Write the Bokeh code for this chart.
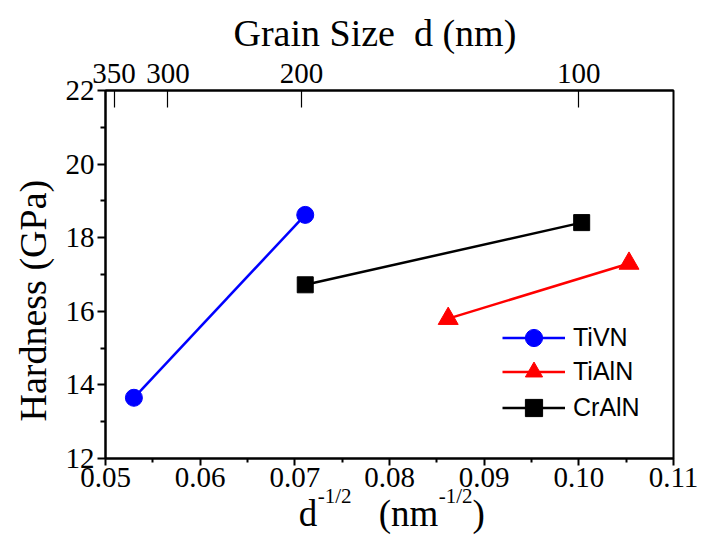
from bokeh.plotting import figure
from bokeh.models import LinearAxis, FixedTicker, Range1d, Title, Legend, LegendItem
from bokeh.embed import file_html
from bokeh.resources import INLINE

# ---- data ----
tivn_x = [0.0530, 0.0711]
tivn_y = [13.65, 18.62]
tialn_x = [0.0862, 0.1053]
tialn_y = [15.80, 17.30]
craln_x = [0.0711, 0.1003]
craln_y = [16.72, 18.41]

x_ticks = [0.05, 0.06, 0.07, 0.08, 0.09, 0.10, 0.11]
x_tick_labels = ["0.05", "0.06", "0.07", "0.08", "0.09", "0.10", "0.11"]
y_ticks = [12, 14, 16, 18, 20, 22]
top_tick_pos = [0.0509, 0.0566, 0.0707, 0.1000]
top_tick_labels = ["350", "300", "200", "100"]

top_title = "Grain Size\u00a0 d (nm)"
left_title = "Hardness (GPa)"
# bottom title pieces: base text and superscripts, placed along the x axis
xt_base_pos = [0.07139, 0.08201, 0.08943]
xt_base_text = ["d", "(nm", ")"]
xt_sup_pos = [0.07420, 0.08698]
xt_sup_text = ["-1/2", "-1/2"]

SERIF = "Liberation Serif"
SANS = "Liberation Sans"
TICK_FS = "29px"

p = figure(width=699, height=536, output_backend="svg", toolbar_location=None,
           x_range=Range1d(0.05, 0.11), y_range=Range1d(12, 22),
           min_border_left=103, min_border_right=26, min_border_top=90, min_border_bottom=78)
p.grid.visible = False
p.outline_line_color = "black"
p.outline_line_width = 2
p.background_fill_color = "white"
p.border_fill_color = "white"

# top title
p.title.text = top_title
p.title.align = "left"
p.title.offset = 128
p.title.standoff = 13
p.title.text_font = SERIF
p.title.text_font_size = "38px"
p.title.text_font_style = "normal"
p.title.text_color = "black"

# bottom axis
xa = p.xaxis[0]
xa.ticker = FixedTicker(ticks=x_ticks,
                        minor_ticks=[(a + b) / 2 for a, b in zip(x_ticks[:-1], x_ticks[1:])])
xa.major_label_overrides = {t: l for t, l in zip(x_ticks, x_tick_labels)}
xa.major_tick_in = 0
xa.major_tick_out = 7
xa.minor_tick_in = 0
xa.minor_tick_out = 4
xa.major_label_standoff = 2

# left axis
ya = p.yaxis[0]
ya.ticker = FixedTicker(ticks=y_ticks,
                        minor_ticks=[(a + b) / 2 for a, b in zip(y_ticks[:-1], y_ticks[1:])])
ya.major_tick_in = 0
ya.major_tick_out = 8
ya.minor_tick_in = 0
ya.minor_tick_out = 5
ya.major_label_standoff = 3

for ax in (xa, ya):
    ax.axis_line_width = 2
    ax.major_tick_line_width = 2
    ax.minor_tick_line_width = 2
    ax.axis_line_color = "black"
    ax.major_tick_line_color = "black"
    ax.minor_tick_line_color = "black"
    ax.major_label_text_font = SERIF
    ax.major_label_text_font_size = TICK_FS
    ax.major_label_text_color = "black"

# top axis (grain size)
top = LinearAxis(ticker=FixedTicker(ticks=top_tick_pos),
                 major_label_overrides={t: l for t, l in zip(top_tick_pos, top_tick_labels)})
top.major_tick_in = 17
top.major_tick_out = 0
top.minor_tick_line_color = None
top.axis_line_width = 2
top.major_tick_line_width = 1.2
top.major_label_standoff = 8
top.major_label_text_font = SERIF
top.major_label_text_font_size = TICK_FS
top.major_label_text_color = "black"
p.add_layout(top, "above")

# left title
p.add_layout(Title(text=left_title, align="left", offset=37, standoff=18,
                   text_font=SERIF, text_font_size="38px", text_font_style="normal",
                   text_color="black"), "left")

# bottom title built from text-only axes (superscripts then base text)
def text_axis(pos, texts, size, standoff):
    ax = LinearAxis(ticker=FixedTicker(ticks=pos),
                    major_label_overrides={t: s for t, s in zip(pos, texts)})
    ax.axis_line_color = None
    ax.major_tick_line_color = None
    ax.minor_tick_line_color = None
    ax.major_tick_in = 0
    ax.major_tick_out = 0
    ax.major_label_standoff = standoff
    ax.major_label_text_font = SERIF
    ax.major_label_text_font_size = size
    ax.major_label_text_color = "black"
    return ax

p.add_layout(text_axis(xt_sup_pos, xt_sup_text, "21px", -6), "below")
p.add_layout(text_axis(xt_base_pos, xt_base_text, "37px", -18), "below")

# series
series = [
    ("TiVN", tivn_x, tivn_y, "#0000FF", "circle", 17),
    ("TiAlN", tialn_x, tialn_y, "#FF0000", "triangle", 20),
    ("CrAlN", craln_x, craln_y, "#000000", "square", 16),
]
legend_y = [99, 65, 29]
for (name, xs, ys, col, mk, sz), ly in zip(series, legend_y):
    r1 = p.line(xs, ys, line_color=col, line_width=2.5)
    r2 = p.scatter(xs, ys, marker=mk, size=sz, fill_color=col, line_color=col)
    lg = Legend(items=[LegendItem(label=name, renderers=[r1, r2])], location=(397, ly))
    lg.border_line_color = None
    lg.background_fill_alpha = 0
    lg.padding = 0
    lg.margin = 0
    lg.spacing = 0
    lg.glyph_width = 63
    lg.glyph_height = 43
    lg.label_height = 30
    lg.label_standoff = 8
    lg.label_text_font = SANS
    lg.label_text_font_size = "25px"
    lg.label_text_color = "black"
    p.add_layout(lg, "center")

open("out.html", "w").write(file_html(p, INLINE))
